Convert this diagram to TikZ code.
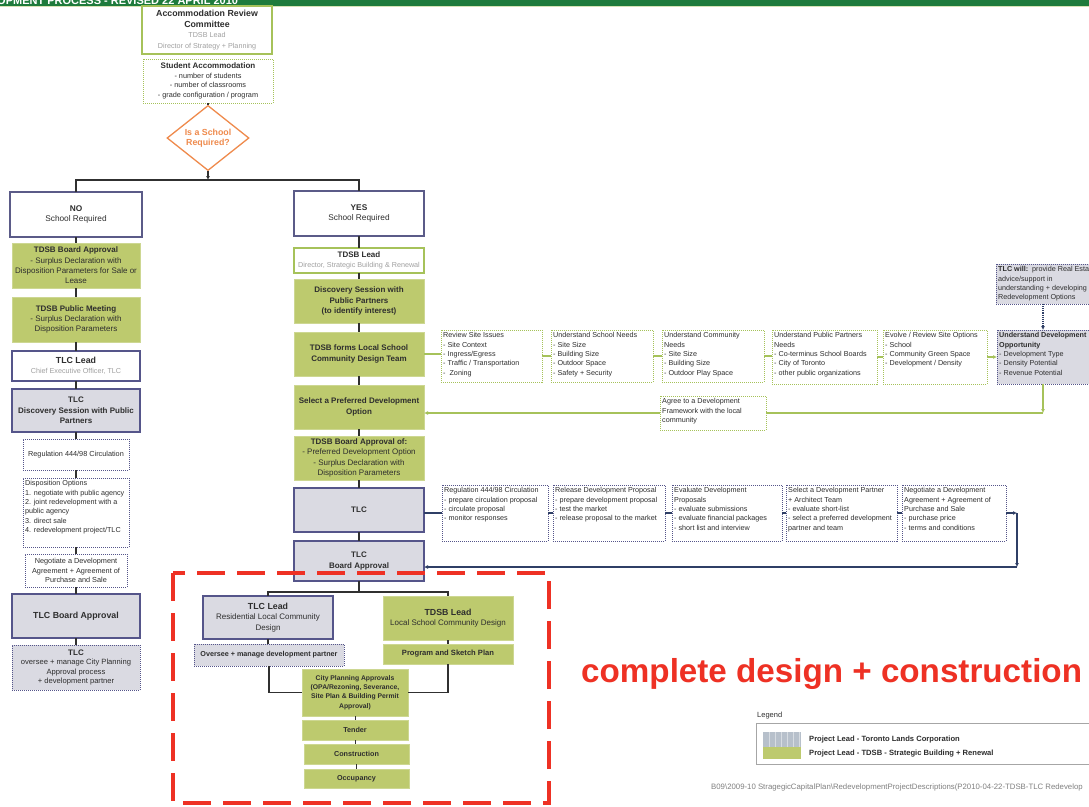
\documentclass[tikz,border=0pt]{standalone}
\usepackage{fontspec}
\setmainfont{Liberation Sans}
\usetikzlibrary{arrows.meta,shapes.geometric}
\definecolor{hdr}{HTML}{1E7B3C}
\definecolor{tg}{HTML}{DADAE2}
\definecolor{tb}{HTML}{55558A}
\definecolor{gf}{HTML}{BDCA6E}
\definecolor{gl}{HTML}{A6C25A}
\definecolor{og}{HTML}{EF8A4C}
\definecolor{rd}{HTML}{EE3124}
\definecolor{tx}{HTML}{2E2E2E}
\definecolor{sub}{HTML}{A0A0A0}
\definecolor{ln}{HTML}{303030}
\definecolor{nv}{HTML}{2F3F66}
\definecolor{lg}{HTML}{B7C0CB}
\newcommand\hd[1]{{\fontsize{8}{9.6}\selectfont\bfseries #1}}
\newcommand\hdl[1]{{\fontsize{8.8}{10}\selectfont\bfseries #1}}
\newcommand\subt[1]{{\fontsize{7.2}{9}\selectfont\color{sub}#1}}
\newcommand\bx[7]{\pgfmathsetmacro\bxw{#5-#3}\pgfmathsetmacro\bxh{#6-#4}%
  \node[#1,anchor=north west,minimum width=\bxw pt,minimum height=\bxh pt] (#2) at (#3,#4) {#7};}
\newcommand\lbx[7]{\bx{#1}{#2}{#3}{#4}{#5}{#6}{}%
  \node[lt,anchor=north west] (#2t) at (#3+2,#4+2.5) {#7};}
\tikzset{
  base/.style={inner sep=0.5pt, outer sep=0pt, text=tx, align=center, font=\fontsize{8}{10.3}\selectfont},
  lt/.style={inner sep=0pt, text=tx, align=left, font=\fontsize{7.2}{9.3}\selectfont},
  wbox/.style={base, draw=tb!85!gray, line width=1.2pt, fill=white},
  tbox/.style={base, draw=tb, line width=1.2pt, fill=tg},
  tdot/.style={base, draw=tb, line width=1pt, densely dotted, fill=tg},
  pdot/.style={base, draw=tb, line width=1pt, densely dotted, fill=white},
  gbox/.style={base, fill=gf, draw=gf!75!white, line width=0.8pt},
  gsol/.style={base, draw=gl, line width=1.2pt, fill=white},
  gdot/.style={base, draw=gl, line width=1pt, densely dotted, fill=white},
  conn/.style={draw=ln, line width=1.4pt},
  thinc/.style={draw=ln, line width=1pt},
  gconn/.style={draw=gl, line width=1.1pt},
  nconn/.style={draw=nv, line width=1.1pt},
  tip/.style={-{Latex[length=4pt,width=4pt]}},
}
\begin{document}
\begin{tikzpicture}[x=1pt,y=-1pt]
\useasboundingbox (0,0) rectangle (1089,806);
\clip (0,0) rectangle (1089,806);
\fill[white] (0,0) rectangle (1089,806);
% header
\fill[hdr] (0,0) rectangle (1089,5.5);
\draw[gl!45, line width=0.8pt] (0,6.6) -- (1089,6.6);
\begin{scope}
\clip (0,0) rectangle (1089,5.5);
\node[anchor=base west, inner sep=0pt, text=white, font=\fontsize{11}{11}\selectfont\bfseries] (hdrt) at (-3,4.2) {OPMENT PROCESS - REVISED 22 APRIL 2010};
\end{scope}

% top
\bx{gsol,font=\fontsize{7.2}{10.6}\selectfont}{arc}{142}{6}{272}{54}{\hdl{Accommodation Review}\\\hdl{Committee}\\\subt{TDSB Lead}\\\subt{Director of Strategy + Planning}}
\bx{gdot,font=\fontsize{7.3}{9.7}\selectfont}{sa}{143}{59}{273}{103}{\hd{Student Accommodation}\\- number of students\\- number of classrooms\\- grade configuration / program}
\node[diamond, draw=og, line width=1.3pt, fill=white, minimum width=82pt, minimum height=58pt, inner sep=0pt, text=og, align=center, font=\fontsize{8.8}{10.5}\selectfont\bfseries] (dia) at (208,138) {Is a School\\Required?};

% left column
\bx{wbox,font=\fontsize{8.3}{10.5}\selectfont}{no}{10}{192}{142}{237}{\textbf{NO}\\School Required}
\bx{gbox}{tba}{12}{243}{140}{288}{\hd{TDSB Board Approval}\\- Surplus Declaration with\\Disposition Parameters for Sale or\\Lease}
\bx{gbox}{tpm}{12}{297}{140}{342}{\hd{TDSB Public Meeting}\\- Surplus Declaration with\\Disposition Parameters}
\bx{wbox,draw=tb}{tlcl}{12}{351}{140}{381}{\hdl{TLC Lead}\\\subt{Chief Executive Officer, TLC}}
\bx{tbox}{tlcd}{12}{389}{140}{432}{\hd{TLC}\\\hd{Discovery Session with Public}\\\hd{Partners}}
\bx{pdot,font=\fontsize{7.3}{9.3}\selectfont}{reg}{23}{439}{129}{470}{Regulation 444/98 Circulation}
\lbx{pdot}{disp}{23}{478}{129}{547}{Disposition Options\\1. negotiate with public agency\\2. joint redevelopment with a\\public agency\\3. direct sale\\4. redevelopment project/TLC}
\bx{pdot,font=\fontsize{7.3}{9.6}\selectfont}{nego}{25}{554}{127}{587}{Negotiate a Development\\Agreement + Agreement of\\Purchase and Sale}
\bx{tbox}{tlcbl}{12}{594}{140}{638}{\hdl{TLC Board Approval}}
\bx{tdot,font=\fontsize{7.6}{9.6}\selectfont}{tlco}{12}{645}{140}{690}{\hd{TLC}\\oversee + manage City Planning\\Approval process\\+ development partner}

% middle column
\bx{wbox,font=\fontsize{8.3}{10.5}\selectfont}{yes}{294}{191}{424}{236}{\textbf{YES}\\School Required}
\bx{gsol}{tdl}{294}{248}{424}{273}{\hd{TDSB Lead}\\\subt{Director, Strategic Building \& Renewal}}
\bx{gbox}{disc}{294}{279}{424}{323}{\hd{Discovery Session with}\\\hd{Public Partners}\\\hd{(to identify interest)}}
\bx{gbox}{forms}{294}{332}{424}{376}{\hd{TDSB forms Local School}\\\hd{Community Design Team}}
\bx{gbox}{sel}{294}{385}{424}{429}{\hd{Select a Preferred Development}\\\hd{Option}}
\bx{gbox}{tba2}{294}{436}{424}{480}{\hd{TDSB Board Approval of:}\\- Preferred Development Option\\- Surplus Declaration with\\Disposition Parameters}
\bx{tbox}{tlcm}{294}{488}{424}{532}{\hd{TLC}}
\bx{tbox}{tlcb2}{294}{541}{424}{581}{\hd{TLC}\\\hd{Board Approval}}

% green row
\lbx{gdot}{rsi}{441}{330}{542}{382}{Review Site Issues\\- Site Context\\- Ingress/Egress\\- Traffic / Transportation\\-\ \ Zoning}
\lbx{gdot}{usn}{551}{330}{653}{382}{Understand School Needs\\- Site Size\\- Building Size\\- Outdoor Space\\- Safety + Security}
\lbx{gdot}{ucn}{662}{330}{764}{382}{Understand Community\\Needs\\- Site Size\\- Building Size\\- Outdoor Play Space}
\lbx{gdot}{uppn}{772}{330}{877}{384}{Understand Public Partners\\Needs\\- Co-terminus School Boards\\- City of Toronto\\- other public organizations}
\lbx{gdot}{evo}{883}{330}{987}{384}{Evolve / Review Site Options\\- School\\- Community Green Space\\- Development / Density}
\lbx{tdot}{udo}{997}{330}{1100}{384}{\textbf{Understand Development}\\\textbf{Opportunity}\\- Development Type\\- Density Potential\\- Revenue Potential}
\lbx{tdot}{tlcw}{996}{264}{1100}{304}{\textbf{TLC will:}\ \ provide Real Estate\\advice/support in\\understanding + developing\\Redevelopment Options}
\lbx{gdot}{agr}{660}{396}{766}{430}{Agree to a Development\\Framework with the local\\community}

% TLC row
\lbx{pdot}{rg2}{442}{485}{548}{541}{Regulation 444/98 Circulation\\- prepare circulation proposal\\- circulate proposal\\- monitor responses}
\lbx{pdot}{rel}{553}{485}{665}{541}{Release Development Proposal\\- prepare development proposal\\- test the market\\- release proposal to the market}
\lbx{pdot}{evl}{672}{485}{782}{541}{Evaluate Development\\Proposals\\- evaluate submissions\\- evaluate financial packages\\- short list and interview}
\lbx{pdot}{sdp}{786}{485}{897}{541}{Select a Development Partner\\+ Architect Team\\- evaluate short-list\\- select a preferred development\\partner and team}
\lbx{pdot}{ngt}{902}{485}{1006}{541}{Negotiate a Development\\Agreement + Agreement of\\Purchase and Sale\\- purchase price\\- terms and conditions}

% bottom
\bx{tbox,font=\fontsize{8}{10.3}\selectfont\color{tx!75}}{tlcB}{203}{596}{333}{639}{\hdl{\color{tx}TLC Lead}\\Residential Local Community\\Design}
\bx{tdot,font=\fontsize{7.2}{9}\selectfont\bfseries}{ovB}{194}{644}{344}{666}{Oversee + manage development partner}
\bx{gbox,font=\fontsize{8}{10.3}\selectfont\color{tx!80}}{tdsbB}{383}{596}{513}{640}{\hdl{\color{tx}TDSB Lead}\\Local School Community Design}
\bx{gbox,font=\fontsize{7.6}{9.5}\selectfont\bfseries}{prog}{383}{644}{513}{664}{Program and Sketch Plan}
\bx{gbox,font=\fontsize{6.8}{9.3}\selectfont\bfseries}{city}{302}{669}{408}{716}{City Planning Approvals\\(OPA/Rezoning, Severance,\\Site Plan \& Building Permit\\Approval)}
\bx{gbox,font=\fontsize{7.2}{9}\selectfont\bfseries}{tend}{302}{720}{408}{740}{Tender}
\bx{gbox,font=\fontsize{7.2}{9}\selectfont\bfseries}{cons}{304}{744}{409}{764}{Construction}
\bx{gbox,font=\fontsize{7.2}{9}\selectfont\bfseries}{occ}{304}{769}{409}{788}{Occupancy}

% connectors top
\coordinate (j) at (208,180);
\draw[conn] (sa.south) -- (dia.north);
\draw[conn] (no.north) -- (no.north |- j) -- (yes.north |- j) -- (yes.north);
\draw[conn,tip] (dia.south) -- (j);
% left column
\draw[conn] (no.south) -- (tba.north);
\draw[conn] (tba.south) -- (tpm.north);
\draw[conn] (tpm.south) -- (tlcl.north);
\draw[conn] (tlcl.south) -- (tlcd.north);
\draw[conn] (tlcd.south) -- (reg.north);
\draw[conn] (reg.south) -- (disp.north);
\draw[conn] (disp.south) -- (nego.north);
\draw[conn] (nego.south) -- (tlcbl.north);
\draw[conn] (tlcbl.south) -- (tlco.north);
% middle column
\draw[conn] (yes.south) -- (tdl.north);
\draw[conn] (tdl.south) -- (disc.north);
\draw[conn] (disc.south) -- (forms.north);
\draw[conn] (forms.south) -- (sel.north);
\draw[conn] (sel.south) -- (tba2.north);
\draw[conn] (tba2.south) -- (tlcm.north);
\draw[conn] (tlcm.south) -- (tlcb2.north);
% green row
\coordinate (ua) at (1043,413);
\draw[gconn] (forms.east) -- (forms.east -| rsi.west);
\draw[gconn] (rsi.east) -- (usn.west);
\draw[gconn] (usn.east) -- (ucn.west);
\draw[gconn] (ucn.east) -- (ucn.east -| uppn.west);
\draw[gconn] (uppn.east) -- (evo.west);
\draw[gconn,tip] (evo.east) -- (udo.west);
\draw[nconn,densely dotted,tip] (tlcw.south -| ua) -- (udo.north -| ua);
\draw[gconn,tip] (udo.south -| ua) -- (ua);
\draw[gconn] (ua) -- (agr.east);
\draw[gconn,tip] (agr.west) -- (agr.west -| sel.east);
% TLC row
\coordinate (rc) at (1017,567);
\draw[nconn] (rg2.west) -- (rg2.west -| tlcm.east);
\draw[nconn] (rg2.east) -- (rel.west);
\draw[nconn] (rel.east) -- (evl.west);
\draw[nconn] (evl.east) -- (sdp.west);
\draw[nconn] (sdp.east) -- (ngt.west);
\draw[nconn,tip] (ngt.east) -- (ngt.east -| rc);
\draw[nconn,tip] (ngt.east -| rc) -- (rc);
\draw[nconn,tip] (rc) -- (rc -| tlcb2.east);
% bottom
\coordinate (bj) at (359,592);
\draw[conn] (tlcb2.south) -- (bj);
\draw[conn] (tlcB.north) -- (tlcB.north |- bj) -- (tdsbB.north |- bj) -- (tdsbB.north);
\draw[conn] (tlcB.south) -- (tlcB.south |- ovB.north);
\draw[conn] (tdsbB.south) -- (prog.north);
\draw[conn] (ovB.south) -- (ovB.south |- city.west) -- (city.west);
\draw[conn] (prog.south) -- (prog.south |- city.east) -- (city.east);
\draw[thinc] (city.south) -- (city.south |- tend.north);
\draw[thinc] (tend.south) -- (tend.south |- cons.north);
\draw[thinc] (cons.south) -- (occ.north);

% big label
\node[anchor=west, inner sep=0pt, text=rd, font=\fontsize{33.2}{34}\selectfont\bfseries] (cdc) at (581,674) {complete design + construction};

% legend
\node[anchor=west, inner sep=0pt, text=tx, font=\fontsize{7.5}{9}\selectfont] (leg) at (757,716) {Legend};
\draw[gray!70, line width=0.8pt] (756,723) rectangle (1100,764);
\fill[lg] (763,732) rectangle (801,747);
\foreach \sx in {769,775,...,799} \draw[white!45!lg, line width=0.6pt] (\sx,732) -- (\sx,747);
\fill[gf] (763,747) rectangle (801,759);
\node[anchor=west, inner sep=0pt, text=tx, font=\fontsize{7.6}{9}\selectfont\bfseries] (l1) at (809,739.5) {Project Lead - Toronto Lands Corporation};
\node[anchor=west, inner sep=0pt, text=tx, font=\fontsize{7.6}{9}\selectfont\bfseries] (l2) at (809,754) {Project Lead - TDSB - Strategic Building + Renewal};
\node[anchor=west, inner sep=0pt, text=gray, font=\fontsize{7.8}{9}\selectfont] (foot) at (711,787) {B09\textbackslash 2009-10 StragegicCapitalPlan\textbackslash RedevelopmentProjectDescriptions(P2010-04-22-TDSB-TLC Redevelop};

% red dashed frame
\draw[rd, line width=3.8pt, dash pattern=on 28pt off 12pt] (173,573) rectangle (549,803);
\end{tikzpicture}
\end{document}
